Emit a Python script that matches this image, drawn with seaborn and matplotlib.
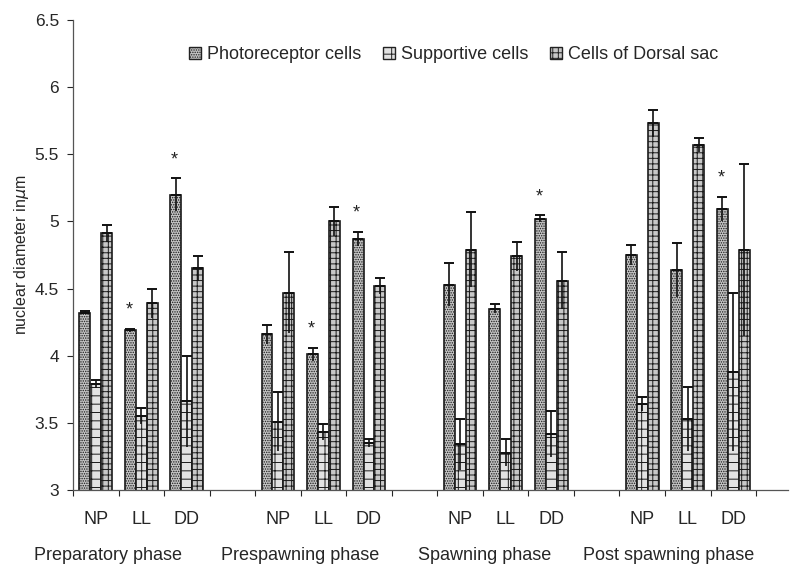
import numpy as np
import pandas as pd
import matplotlib
matplotlib.use("Agg")
import matplotlib.pyplot as plt
import matplotlib.transforms as mtransforms
import seaborn as sns

phases = ["Preparatory phase", "Prespawning phase", "Spawning phase", "Post spawning phase"]
conditions = ["NP", "LL", "DD"]
cell_types = ["Photoreceptor cells", "Supportive cells", "Cells of Dorsal sac"]

# values in order: phase x condition (NP, LL, DD)
photo = [4.32, 4.19, 5.20, 4.16, 4.01, 4.87, 4.53, 4.35, 5.02, 4.75, 4.64, 5.09]
photo_err = [0.01, 0.01, 0.12, 0.07, 0.05, 0.05, 0.16, 0.035, 0.025, 0.075, 0.20, 0.09]
supp = [3.79, 3.55, 3.66, 3.51, 3.43, 3.35, 3.34, 3.28, 3.42, 3.64, 3.53, 3.88]
supp_err = [0.03, 0.06, 0.34, 0.22, 0.06, 0.03, 0.19, 0.10, 0.17, 0.05, 0.24, 0.59]
dorsal = [4.91, 4.39, 4.65, 4.47, 5.00, 4.52, 4.79, 4.74, 4.56, 5.73, 5.57, 4.79]
dorsal_err = [0.06, 0.11, 0.09, 0.30, 0.11, 0.06, 0.28, 0.11, 0.21, 0.10, 0.05, 0.64]
# significance stars (photoreceptor cells)
star_flags = [0, 1, 1, 0, 1, 1, 0, 0, 1, 0, 0, 1]

sns.set_style("ticks")
plt.rcParams["font.family"] = ["Liberation Sans", "DejaVu Sans"]
plt.rcParams["hatch.color"] = "#2a2a2a"
plt.rcParams["hatch.linewidth"] = 0.7

# build slot order: 3 conditions per phase + spacer
order = []
for pi, ph in enumerate(phases):
    for c in conditions:
        order.append(f"{ph}|{c}")
    if pi < len(phases) - 1:
        order.append(f"gap{pi}")

rows = []
series = [(photo, photo_err), (supp, supp_err), (dorsal, dorsal_err)]
for ci, ct in enumerate(cell_types):
    vals, errs = series[ci]
    k = 0
    for ph in phases:
        for c in conditions:
            rows.append({"slot": f"{ph}|{c}", "cell": ct, "value": vals[k], "err": errs[k],
                         "star": star_flags[k] if ci == 0 else 0})
            k += 1
df = pd.DataFrame(rows)

fig = plt.figure(figsize=(7.9, 5.66), dpi=100)
ax = fig.add_axes([0.0924, 0.134, 0.905, 0.831])

sns.barplot(data=df, x="slot", y="value", hue="cell", order=order, hue_order=cell_types,
            errorbar=None, width=0.72, ax=ax, legend=True)

faces = ["#c4c4c4", "#e2e2e2", "#c8c8c8"]
hatches = [".......", "--|", "+++"]
bar_containers = list(ax.containers)[:3]
for hi, cont in enumerate(bar_containers):
    sub = df[df["cell"] == cell_types[hi]].set_index("slot")
    for bar in cont:
        bar.set_facecolor(faces[hi])
        bar.set_hatch(hatches[hi])
        bar.set_edgecolor("#1a1a1a")
        bar.set_linewidth(1.2)
        xc = bar.get_x() + bar.get_width() / 2
        idx = int(round(xc))
        name = order[idx]
        r = sub.loc[name]
        top = r["value"]
        e = r["err"]
        ax.errorbar([xc], [top], yerr=[[0], [e]], fmt="none", ecolor="#111111",
                    elinewidth=1.2, capsize=3.5, capthick=1.4, zorder=5)
        ax.errorbar([xc], [top], yerr=[[e], [0]], fmt="none", ecolor="#111111",
                    elinewidth=1.2, capsize=0, zorder=5)
        if r["star"]:
            ax.text(xc - 0.03, top + e + 0.14, "*", ha="center", va="center",
                    fontsize=13, color="#222222")

ax.set_ylim(3, 6.5)
ax.set_xlim(-0.5, 15.2)
ax.set_yticks([3, 3.5, 4, 4.5, 5, 5.5, 6, 6.5])
ax.set_yticklabels(["3", "3.5", "4", "4.5", "5", "5.5", "6", "6.5"], fontsize=12.5)

real_idx = [i for i, n in enumerate(order) if not n.startswith("gap")]
ax.set_xticks(real_idx)
ax.set_xticklabels([order[i].split("|")[1] for i in real_idx], fontsize=13)
ax.tick_params(axis="x", which="major", length=0, pad=15)
ax.set_xticks(np.arange(-0.5, 15.0, 1.0), minor=True)
ax.tick_params(axis="x", which="minor", length=4, direction="out", width=0.8)
ax.tick_params(axis="y", length=4, width=0.8, direction="out", pad=6)
ax.set_xlabel("")
ax.set_ylabel("nuclear diameter in$\\mu$m", fontsize=11.5, labelpad=3)

for s in ["top", "right"]:
    ax.spines[s].set_visible(False)
for s in ["left", "bottom"]:
    ax.spines[s].set_color("#555555")
    ax.spines[s].set_linewidth(0.9)

phase_x = [0.27, 4.49, 8.53, 12.59]
trans = mtransforms.blended_transform_factory(ax.transData, fig.transFigure)
for ph, px in zip(phases, phase_x):
    ax.text(px, 0.0177, ph, transform=trans, ha="center", va="center", fontsize=13)

handles, labels = ax.get_legend_handles_labels()
handles, labels = handles[:3], labels[:3]
for hi, h in enumerate(handles):
    h.set_facecolor(faces[hi])
    h.set_hatch(hatches[hi])
    h.set_edgecolor("#222222")
ax.legend(handles, labels, loc="center", bbox_to_anchor=(0.574, 0.903),
          bbox_transform=fig.transFigure, ncol=3, frameon=False, fontsize=13,
          handlelength=0.7, handleheight=0.7, handletextpad=0.3, columnspacing=1.2)

fig.savefig("out.png", dpi=100)
